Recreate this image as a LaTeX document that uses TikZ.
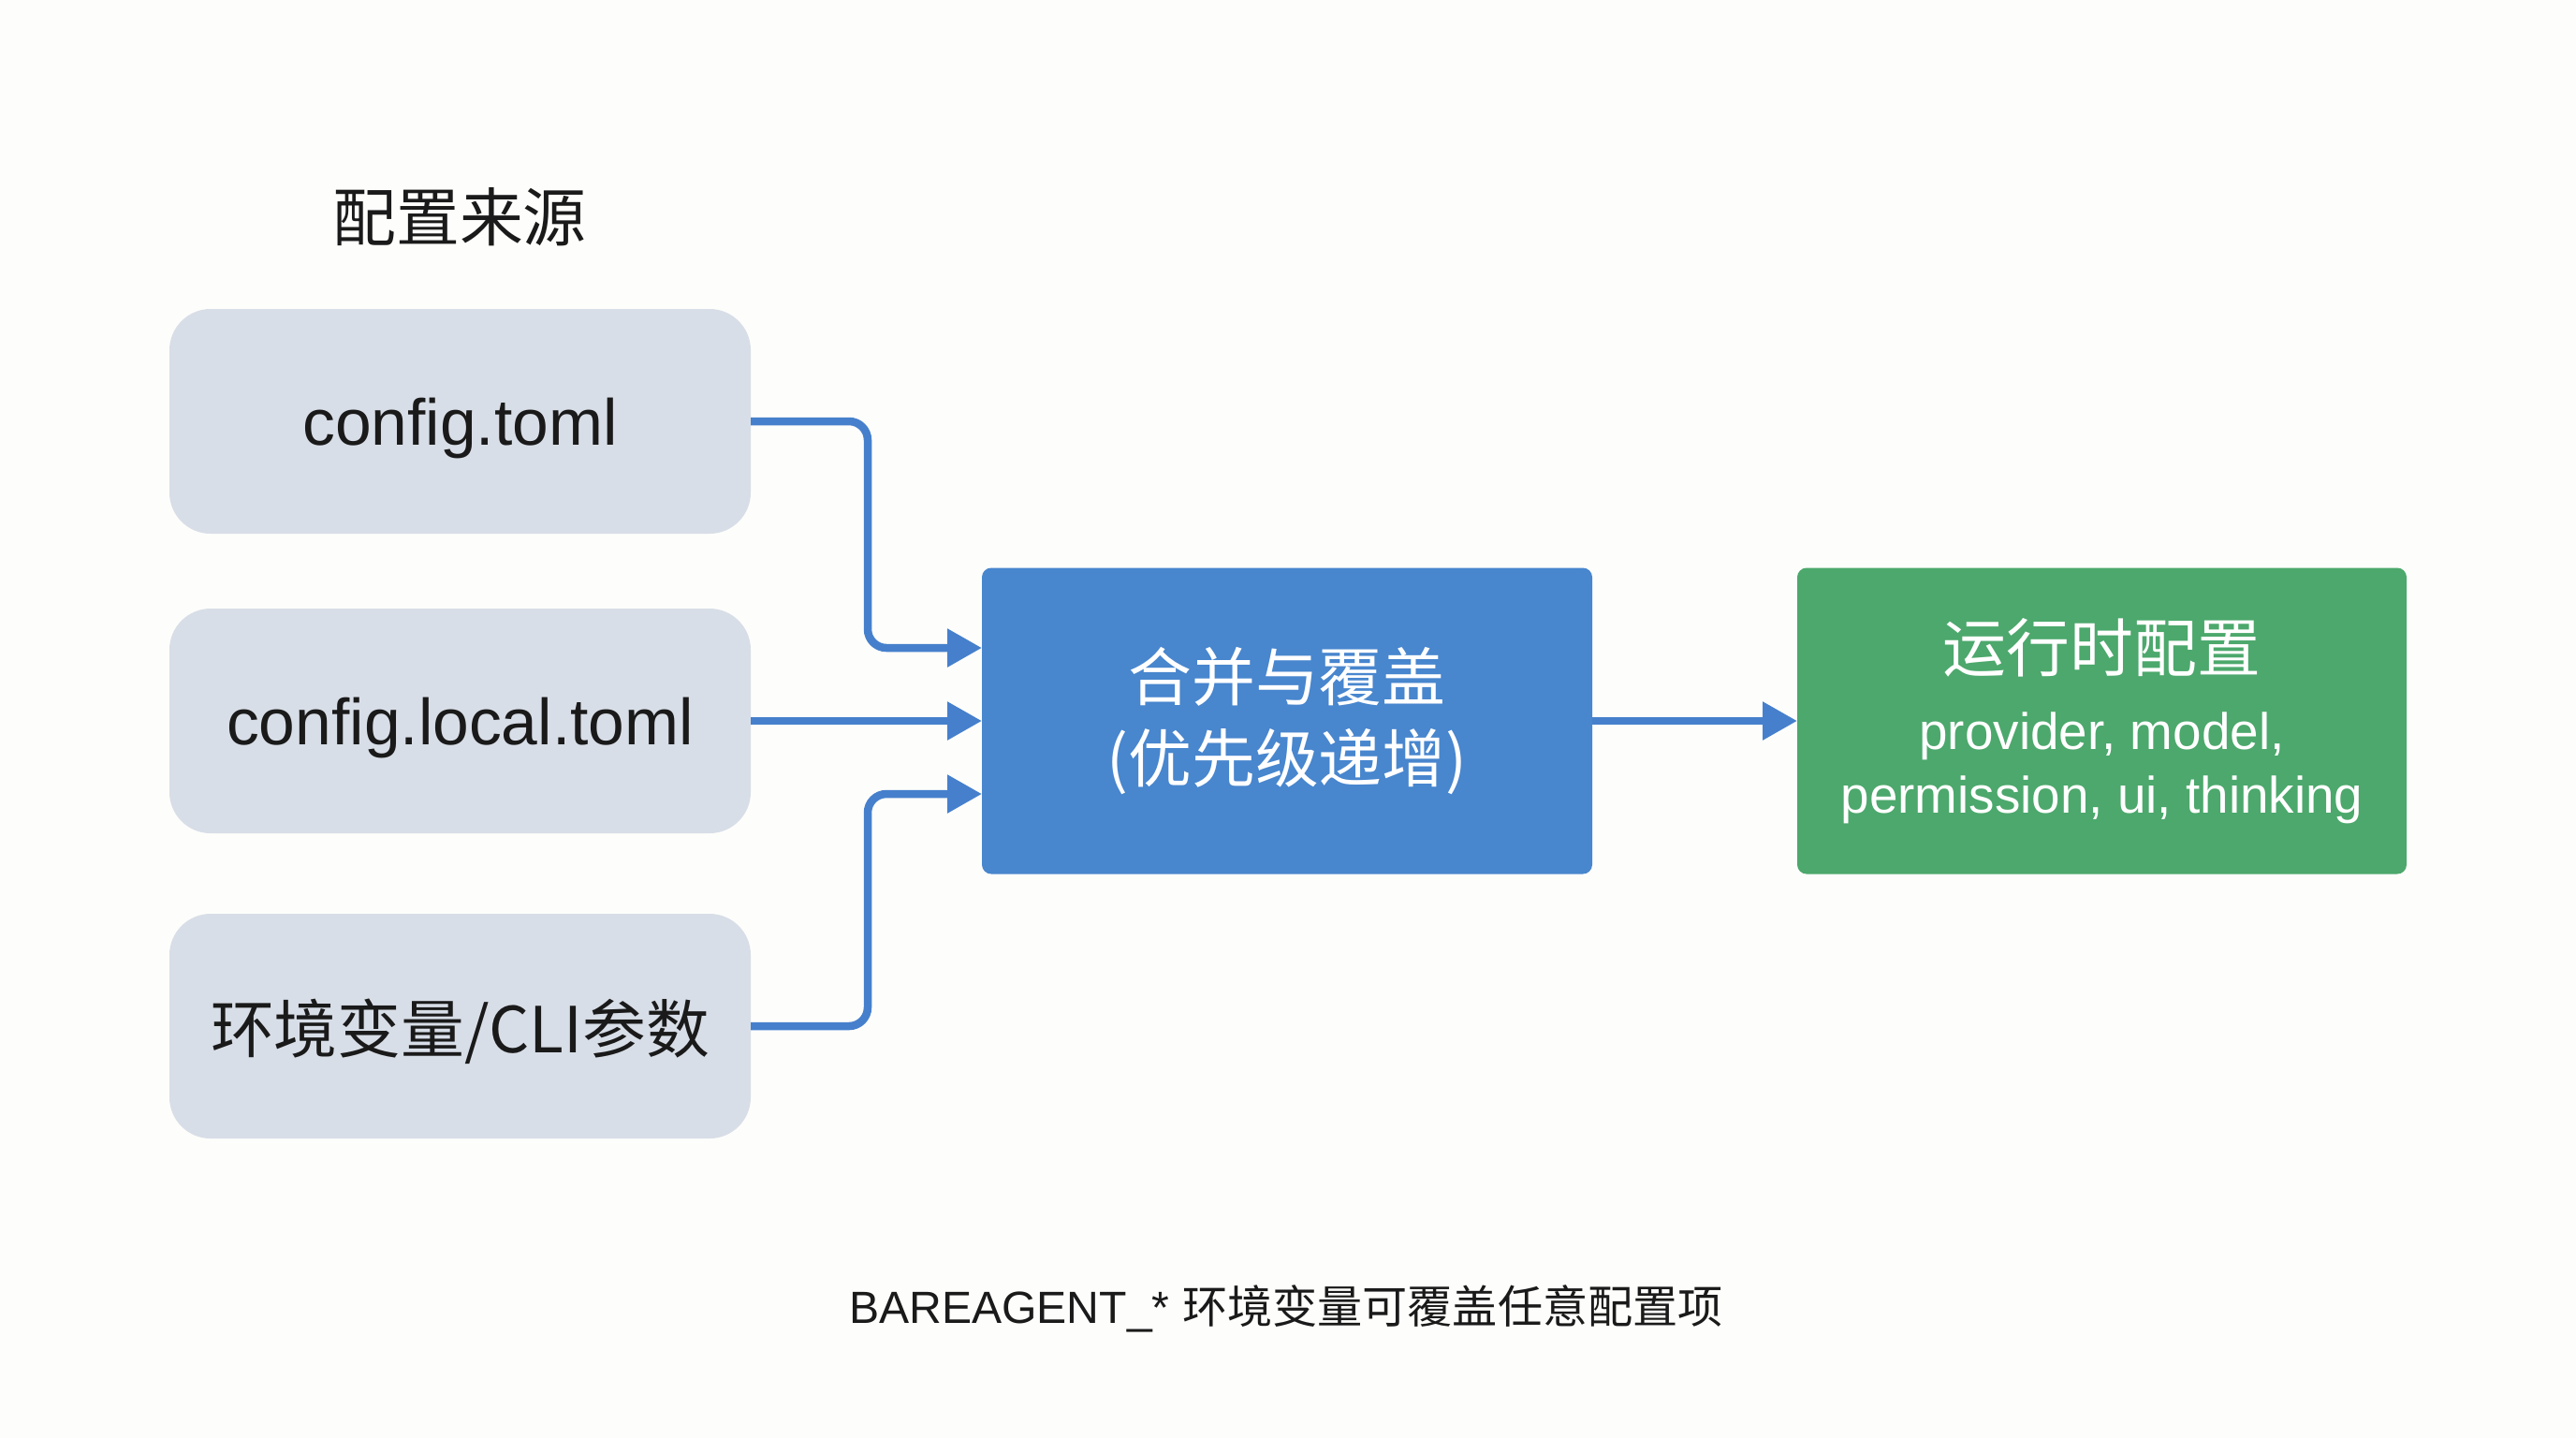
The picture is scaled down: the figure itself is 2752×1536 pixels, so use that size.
\documentclass[tikz,border=0pt]{standalone}
\usepackage{fontspec}
\setmainfont{Liberation Sans}
\newfontfamily\cjk{Noto Sans CJK SC}
\usetikzlibrary{arrows.meta}
\definecolor{sourcegray}{RGB}{216,222,231}
\definecolor{mergeblue}{RGB}{72,134,206}
\definecolor{resultgreen}{RGB}{76,168,108}
\definecolor{flowblue}{RGB}{70,128,204}
\definecolor{pagewhite}{RGB}{253,253,251}
\definecolor{inkblack}{RGB}{26,26,26}
\tikzset{
  config source/.style={fill=sourcegray,rounded corners=4.4mm,minimum width=62.1mm,minimum height=24mm,inner sep=0pt,outer sep=0pt,text depth=0pt,text=inkblack,font=\fontsize{19.8}{24}\selectfont},
  config merge/.style={fill=mergeblue,rounded corners=1mm,minimum width=65.2mm,minimum height=32.7mm,inner sep=0pt,outer sep=0pt,text=white,align=center,font=\cjk\fontsize{19.3}{24.5}\selectfont},
  config result/.style={fill=resultgreen,rounded corners=1mm,minimum width=65.1mm,minimum height=32.7mm,inner sep=0pt,outer sep=0pt,text=white,align=center,font=\fontsize{15.6}{19.3}\selectfont},
  config flow/.style={-{Triangle[length=3.7mm,width=3.9mm]},line width=0.85mm,draw=flowblue,rounded corners=2mm},
  config title/.style={text=inkblack,font=\cjk\fontsize{19.3}{24}\selectfont},
  config note/.style={text=inkblack,font=\fontsize{13.7}{17}\selectfont}
}

\begin{document}
\begin{tikzpicture}[x=0.1mm,y=-0.1mm]
  \fill[pagewhite] (0,0) rectangle (2752,1536);
  \node[config title] (title) at (491,232) {配置来源};
  \node[config source] (src1) at (491.5,450) {config.toml};
  \node[config source] (src2) at (491.5,770) {config.local.toml};
  \node[config source] (src3) at (491.5,1096) {\cjk\fontsize{19.3}{24}\selectfont 环境变量/CLI参数};
  \node[config merge] (merge) at (1375,770) {合并与覆盖\\(优先级递增)};
  \node[config result] (runtime) at (2245.5,770) {{\cjk\fontsize{19.3}{19.3}\selectfont 运行时配置}\\[4.3pt]provider, model,\\permission, ui, thinking};
  \draw[config flow] (src1.east) -- ++(125,0) |- ([yshift=7.8mm]merge.west);
  \draw[config flow] (src2.east) -- (merge.west);
  \draw[config flow] (src3.east) -- ++(125,0) |- ([yshift=-7.8mm]merge.west);
  \draw[config flow] (merge.east) -- (runtime.west);
  \node[config note] (note) at (1374,1398) {BAREAGENT\_* {\cjk 环境变量可覆盖任意配置项}};
\end{tikzpicture}
\end{document}
